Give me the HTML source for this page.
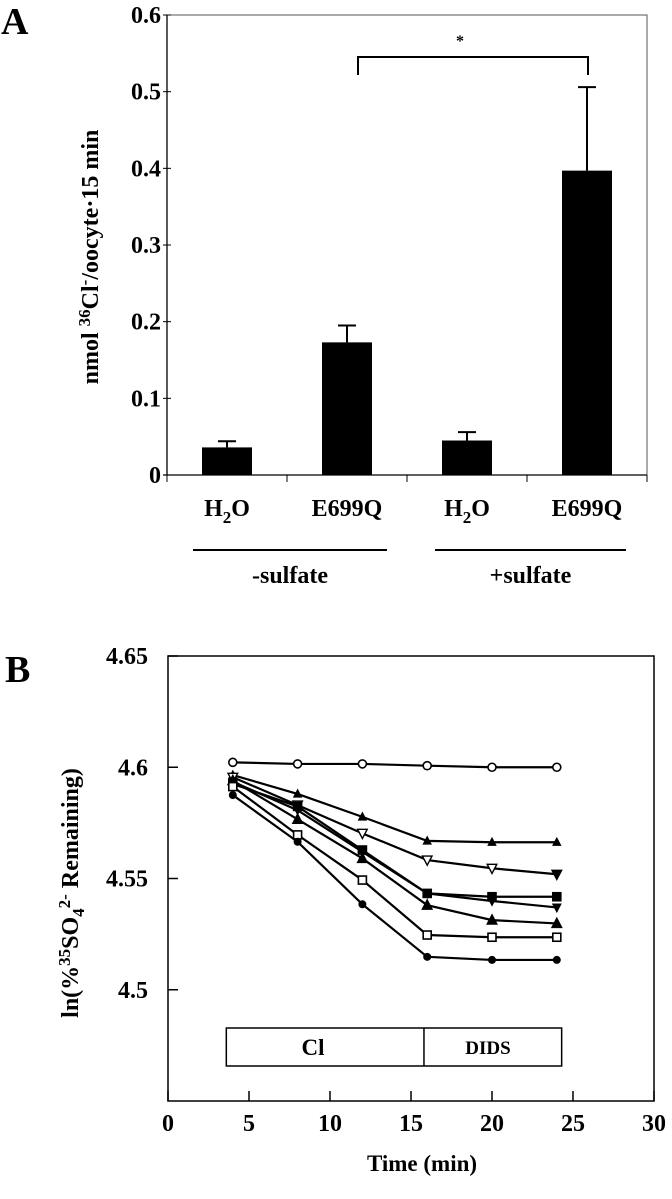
<!DOCTYPE html>
<html><head><meta charset="utf-8">
<style>
html,body{margin:0;padding:0;background:#fff;}
svg{display:block;}
text{font-family:"Liberation Serif",serif;font-weight:bold;fill:#000;}
</style></head>
<body>
<svg id="fig" width="672" height="1199" viewBox="0 0 672 1199" xmlns="http://www.w3.org/2000/svg">
  <g id="panelA"></g>
  <g id="panelB"></g>
</svg>
<script>
// ---------- Panel A data ----------
const aCategories = ["H2O", "E699Q", "H2O", "E699Q"];
const aValues = [0.036, 0.173, 0.045, 0.397];
const aErrors = [0.044, 0.195, 0.056, 0.506];
const aTicks = [0, 0.1, 0.2, 0.3, 0.4, 0.5, 0.6];
const aTickLabels = ["0", "0.1", "0.2", "0.3", "0.4", "0.5", "0.6"];
const aGroups = ["-sulfate", "+sulfate"];

// ---------- Panel B data ----------
const bTimes = [4, 8, 12, 16, 20, 24];
const bOpenCircle = [4.6022, 4.6015, 4.6015, 4.6007, 4.6000, 4.6000];
const bSmallTri = [4.5965, 4.5880, 4.5777, 4.5669, 4.5663, 4.5663];
const bOpenDownTri = [4.5955, 4.5830, 4.5703, 4.5583, 4.5546, 4.5519];
const bFilledSquare = [4.5925, 4.5824, 4.5628, 4.5433, 4.5418, 4.5418];
const bFilledDownTri = [4.5935, 4.5807, 4.5620, 4.5433, 4.5399, 4.5370];
const bFilledTri = [4.5940, 4.5766, 4.5590, 4.5380, 4.5313, 4.5298];
const bOpenSquare = [4.5913, 4.5696, 4.5493, 4.5246, 4.5236, 4.5236];
const bFilledCircle = [4.5875, 4.5665, 4.5384, 4.5148, 4.5134, 4.5134];
const bYTicks = [4.5, 4.55, 4.6, 4.65];
const bYTickLabels = ["4.5", "4.55", "4.6", "4.65"];
const bXTicks = [0, 5, 10, 15, 20, 25, 30];
const bXTickLabels = ["0", "5", "10", "15", "20", "25", "30"];

const NS = "http://www.w3.org/2000/svg";
function mk(parent, tag, attrs, txt) {
  const e = document.createElementNS(NS, tag);
  for (const k in attrs) e.setAttribute(k, attrs[k]);
  if (txt !== undefined) e.textContent = txt;
  parent.appendChild(e);
  return e;
}

// ===== Panel A =====
(function () {
  const g = document.getElementById("panelA");
  const L = 167, R = 647, T = 15, B = 475;
  const y = v => B - (v / 0.6) * (B - T);
  const cw = (R - L) / aCategories.length;
  const xc = i => L + cw * (i + 0.5);

  let t = mk(g, "text", {x: 1, y: 34, "font-size": 38});
  t.textContent = "A";
  
  

  let fr = mk(g, "rect", {x: L, y: T, width: R - L, height: B - T, fill: "none", stroke: "#555", "stroke-width": 1});
  
  
  let ya = mk(g, "line", {x1: L, y1: T, x2: L, y2: B, stroke: "#000", "stroke-width": 1.3});
  
  
  let xa = mk(g, "line", {x1: L - 4, y1: B, x2: R, y2: B, stroke: "#000", "stroke-width": 1.3});
  
  

  aTicks.forEach((v, i) => {
    const ln = mk(g, "line", {x1: L - 4, y1: y(v), x2: L + 4, y2: y(v), stroke: "#000", "stroke-width": 1});
    
    
    const tx = mk(g, "text", {x: L - 6, y: y(v) + 8, "font-size": 24, "text-anchor": "end"}, aTickLabels[i]);
    
    
  });
  for (let i = 0; i <= aCategories.length; i++) {
    const x = L + cw * i;
    const ln = mk(g, "line", {x1: x, y1: B, x2: x, y2: B + 7, stroke: "#000", "stroke-width": 1});
    
    
  }

  const bw = 50;
  aValues.forEach((v, i) => {
    const x = xc(i);
    const r = mk(g, "rect", {x: x - bw / 2, y: y(v), width: bw, height: B - y(v), fill: "#000"});
    
    
    const e = mk(g, "path", {d: `M${x},${y(v)}V${y(aErrors[i])}M${x - 9},${y(aErrors[i])}H${x + 9}`, stroke: "#000", "stroke-width": 2, fill: "none"});
    
    
    const lab = mk(g, "text", {x: x, y: 516, "font-size": 24, "text-anchor": "middle"});
    if (aCategories[i] === "H2O") {
      lab.appendChild(document.createTextNode("H"));
      mk(lab, "tspan", {dy: 7, "font-size": 17}, "2");
      mk(lab, "tspan", {dy: -7}, "O");
    } else lab.textContent = aCategories[i];
    
    
  });

  aGroups.forEach((gname, j) => {
    const x1 = j === 0 ? 193 : 435, x2 = j === 0 ? 387 : 626;
    const ln = mk(g, "line", {x1: x1, y1: 550, x2: x2, y2: 550, stroke: "#000", "stroke-width": 2});
    
    
    const tx = mk(g, "text", {x: (x1 + x2) / 2, y: 583, "font-size": 24, "text-anchor": "middle"}, gname);
    
    
  });

  const br = mk(g, "path", {d: `M${xc(1) + 11},75V57H${xc(3) + 1}V75`, stroke: "#000", "stroke-width": 2, fill: "none"});
  
  
  const st = mk(g, "text", {x: 460, y: 46, "font-size": 16, "text-anchor": "middle"}, "*");
  
  

  const yl = mk(g, "text", {x: 0, y: 0, "font-size": 24, "text-anchor": "middle", transform: "translate(98,257) rotate(-90)"});
  yl.appendChild(document.createTextNode("nmol "));
  mk(yl, "tspan", {dy: -8, "font-size": 17}, "36");
  mk(yl, "tspan", {dy: 8}, "Cl");
  mk(yl, "tspan", {dy: -8, "font-size": 17}, "-");
  mk(yl, "tspan", {dy: 8}, "/oocyte·15 min");
  
  
})();

// ===== Panel B =====
(function () {
  const g = document.getElementById("panelB");
  const L = 168, R = 654, T = 656, B = 1101;
  const x = t => L + (t / 30) * (R - L);
  const y = v => B - ((v - 4.45) / 0.2) * (B - T);

  let t = mk(g, "text", {x: 5, y: 682, "font-size": 38}, "B");
  
  

  const fr = mk(g, "rect", {x: L, y: T, width: R - L, height: B - T, fill: "none", stroke: "#000", "stroke-width": 1.5});
  
  

  bYTicks.forEach((v, i) => {
    const ln = mk(g, "line", {x1: L, y1: y(v), x2: L + 10, y2: y(v), stroke: "#000", "stroke-width": 1.5});
    
    
    const tx = mk(g, "text", {x: 148, y: y(v) + 8, "font-size": 24, "text-anchor": "end"}, bYTickLabels[i]);
    
    
  });
  bXTicks.forEach((v, i) => {
    const ln = mk(g, "line", {x1: x(v), y1: B, x2: x(v), y2: B - 10, stroke: "#000", "stroke-width": 1.5});
    
    
    const tx = mk(g, "text", {x: x(v), y: 1131, "font-size": 24, "text-anchor": "middle"}, bXTickLabels[i]);
    
    
  });

  const xt = mk(g, "text", {x: 422, y: 1171, "font-size": 23, "text-anchor": "middle"}, "Time (min)");
  
  

  const yl = mk(g, "text", {x: 0, y: 0, "font-size": 24, "text-anchor": "middle", transform: "translate(78,893) rotate(-90)"});
  yl.appendChild(document.createTextNode("ln(%"));
  mk(yl, "tspan", {dy: -8, "font-size": 17}, "35");
  mk(yl, "tspan", {dy: 8}, "SO");
  mk(yl, "tspan", {dy: 6, "font-size": 17}, "4");
  mk(yl, "tspan", {dy: -14, "font-size": 17}, "2-");
  mk(yl, "tspan", {dy: 8}, " Remaining)");
  
  

  const bx = mk(g, "rect", {x: x(3.6), y: 1028, width: x(24.3) - x(3.6), height: 38, fill: "none", stroke: "#000", "stroke-width": 1.5});
  
  
  const dv = mk(g, "line", {x1: x(15.8), y1: 1028, x2: x(15.8), y2: 1066, stroke: "#000", "stroke-width": 1.5});
  
  
  const c1 = mk(g, "text", {x: 313, y: 1055, "font-size": 23, "text-anchor": "middle"}, "Cl");
  
  
  const c2 = mk(g, "text", {x: 488, y: 1054, "font-size": 19, "text-anchor": "middle"}, "DIDS");
  
  

  const series = [
    {d: bOpenCircle, m: "circle", f: false, n: "series-open-circle"},
    {d: bSmallTri, m: "tri", f: true, n: "series-small-triangle", s: 0.75},
    {d: bOpenDownTri, m: "dtri", f: false, n: "series-open-down-triangle", lastFilled: true},
    {d: bFilledSquare, m: "square", f: true, n: "series-filled-square"},
    {d: bFilledDownTri, m: "dtri", f: true, n: "series-filled-down-triangle", s: 0.8},
    {d: bFilledTri, m: "tri", f: true, n: "series-filled-triangle"},
    {d: bOpenSquare, m: "square", f: false, n: "series-open-square"},
    {d: bFilledCircle, m: "circle", f: true, n: "series-filled-circle", s: 0.8}
  ];
  series.forEach(s => {
    const sg = mk(g, "g", {});
    
    
    const pts = s.d.map((v, i) => x(bTimes[i]) + "," + y(v)).join(" ");
    const pl = mk(sg, "polyline", {points: pts, fill: "none", stroke: "#000", "stroke-width": 2.2});
    
    
    const sc = s.s || 1;
    s.d.forEach((v, i) => {
      const px = x(bTimes[i]), py = y(v);
      const filled = s.f || (s.lastFilled && i === s.d.length - 1);
      const fill = filled ? "#000" : "#fff";
      let m;
      const r = 4 * sc;
      if (s.m === "circle") m = mk(sg, "circle", {cx: px, cy: py, r: r, fill: fill, stroke: "#000", "stroke-width": 1.6});
      else if (s.m === "square") m = mk(sg, "rect", {x: px - r, y: py - r, width: 2 * r, height: 2 * r, fill: fill, stroke: "#000", "stroke-width": 1.6});
      else if (s.m === "tri") m = mk(sg, "polygon", {points: `${px},${py - r * 1.3} ${px - r * 1.2},${py + r} ${px + r * 1.2},${py + r}`, fill: fill, stroke: "#000", "stroke-width": 1.4});
      else m = mk(sg, "polygon", {points: `${px},${py + r * 1.3} ${px - r * 1.2},${py - r} ${px + r * 1.2},${py - r}`, fill: fill, stroke: "#000", "stroke-width": 1.4});
      
      
    });
  });
})();
</script>
</body></html>
